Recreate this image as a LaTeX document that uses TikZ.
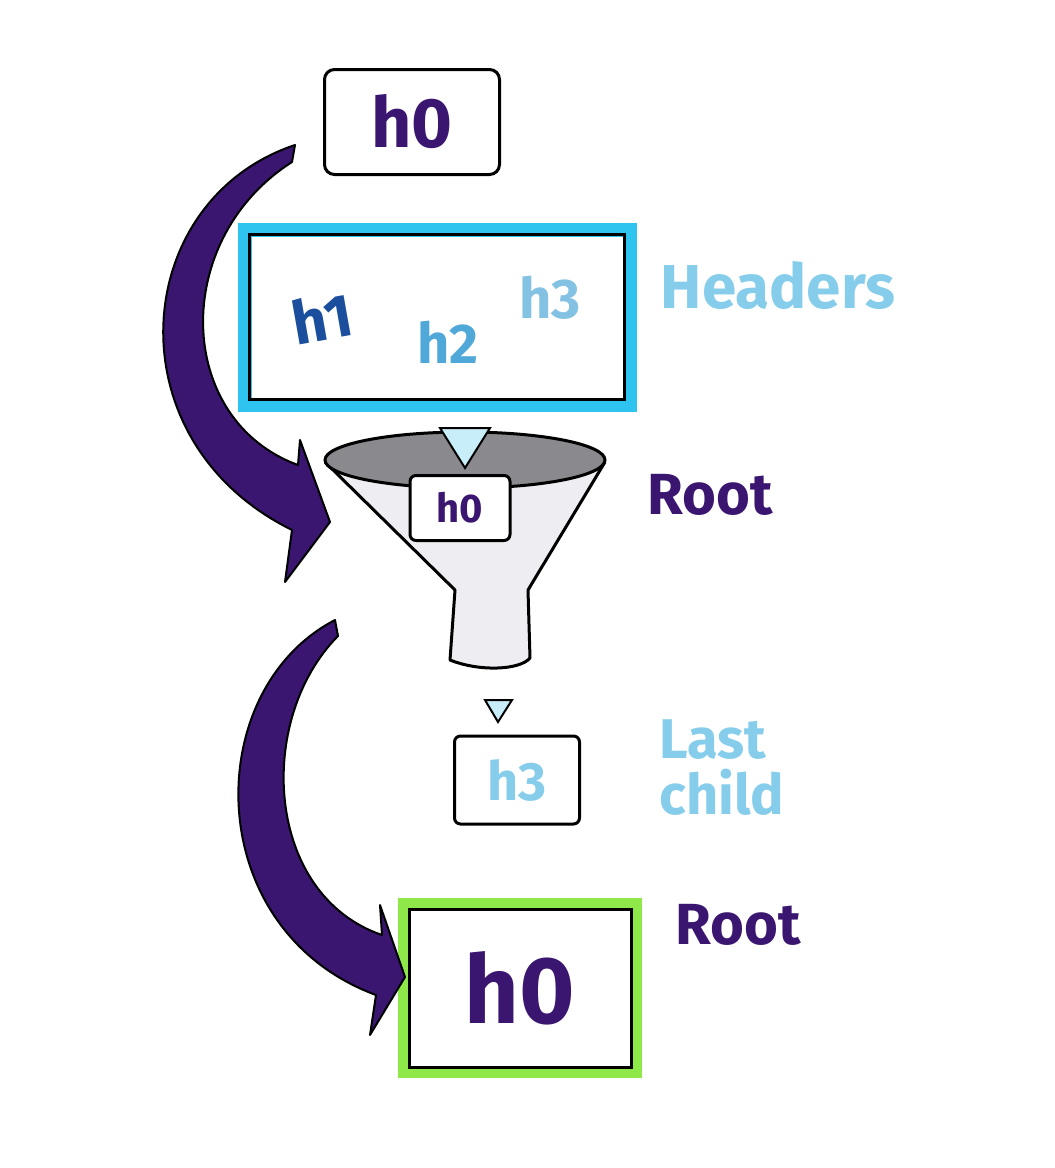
\documentclass[tikz,border=0pt]{standalone}
\usepackage{fontspec}
\setmainfont{Fira Sans}
\definecolor{dpurple}{HTML}{3A1670}
\definecolor{lblue}{HTML}{C8EEFA}
\definecolor{lbltxt}{HTML}{86CDEB}
\definecolor{cyanglow}{HTML}{2FC4F0}
\definecolor{dblue}{HTML}{1B4F9E}
\definecolor{mblue}{HTML}{4FA8D8}
\definecolor{greenglow}{HTML}{8EE84A}
\definecolor{fgray}{HTML}{EEEEF2}
\definecolor{tgray}{HTML}{8A8A8E}
\tikzset{
 hbox/.style={draw=black,line width=3pt,rounded corners=10pt},
 lbl/.style={font=\bfseries\fontsize{#1}{#1}\selectfont,inner sep=0pt},
 parrow/.style={fill=dpurple,draw=black,line width=2pt,line join=round},
}
\begin{document}
\begin{tikzpicture}[x=1pt,y=-1pt]
\useasboundingbox (0,0) rectangle (1055,1168);
% top h0
\node[hbox,minimum width=175pt,minimum height=105pt] (top) at (412,122) {};
\node[lbl=70,text=dpurple] (toptxt) at (top) {h0};
% headers box
\node[draw=cyanglow,line width=14pt,minimum width=385pt,minimum height=175pt] (hdrglow) at (437,317) {};
\node[draw=black,line width=3pt,minimum width=375pt,minimum height=165pt] (hdr) at (437,317) {};
\node[lbl=60,text=dblue,rotate=10] (h1) at (322,318) {h1};
\node[lbl=56,text=mblue] (h2) at (448,342) {h2};
\node[lbl=56,text=mblue!70] (h3) at (550,298) {h3};
\node[lbl=62,text=lbltxt] (headers) at (778,285) {Headers};
% funnel
\coordinate (fl) at (325,462);
\coordinate (fr) at (605,462);
\draw[fill=fgray,line width=3pt,line join=round] (fl) -- (455,590) -- (450,660) .. controls (480,672) and (520,670) .. (530,658) -- (528,590) -- (fr);
\draw[fill=tgray,line width=3pt] (465,460) ellipse (140pt and 28pt);
\draw[fill=lblue,line width=2pt] (440,428) -- (490,428) -- (465,468) -- cycle;
\node[hbox,fill=white,minimum width=100pt,minimum height=65pt,rounded corners=6pt] (fh) at (460,508) {};
\node[lbl=40,text=dpurple] (fhtxt) at (fh) {h0};
\node[lbl=58,text=dpurple] (root1) at (710,495) {Root};
% small triangle
\draw[fill=lblue,line width=2pt] (485,700) -- (512,700) -- (498,722) -- cycle;
% h3 box
\node[hbox,minimum width=125pt,minimum height=88pt,rounded corners=6pt] (lc) at (517,780) {};
\node[lbl=54,text=lbltxt] (lctxt) at (lc) {h3};
\node[lbl=56,align=left,text=lbltxt] (last) at (722,768) {Last\\child};
% green box
\node[draw=greenglow,line width=12pt,minimum width=232pt,minimum height=168pt] (gglow) at (520,988) {};
\node[draw=black,line width=3pt,minimum width=222pt,minimum height=158pt] (gb) at (520,988) {};
\node[lbl=95,text=dpurple] (gtxt) at (gb) {h0};
\node[lbl=58,text=dpurple] (root2) at (738,925) {Root};
% arrows
\draw[parrow] (295,145) .. controls (130,200) and (110,440) .. (292,530) -- (285,582) -- (330,522) -- (300,440) -- (298,465) .. controls (175,420) and (170,240) .. (292,162) -- cycle;
\draw[parrow] (335,620) .. controls (200,690) and (200,930) .. (376,995) -- (370,1035) -- (405,977) -- (380,905) -- (382,935) .. controls (265,895) and (255,720) .. (338,636) -- cycle;
\end{tikzpicture}
\end{document}
